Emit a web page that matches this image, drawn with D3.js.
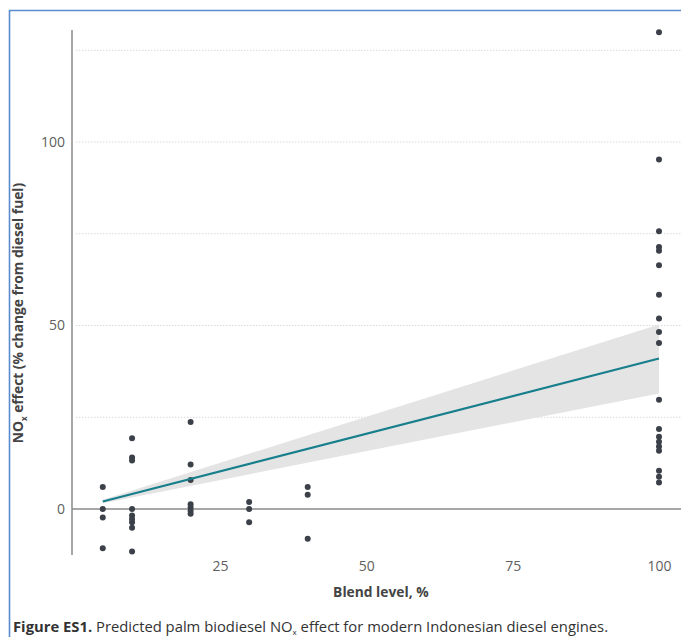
<!DOCTYPE html>
<html>
<head>
<meta charset="utf-8">
<script src="https://cdn.jsdelivr.net/npm/d3@7"></script>
<style>
body { margin: 0; background: #fff; }
text { font-family: "Open Sans", Lato, sans-serif; }
</style>
</head>
<body>
<div id="chart"></div>
<script>
var w = 681
var h = 637

// observed NOx effects, one entry per test
var obsBlend = [5, 5, 5, 5,
	10, 10, 10, 10, 10, 10, 10, 10, 10,
	20, 20, 20, 20, 20, 20, 20,
	30, 30, 30,
	40, 40, 40,
	100, 100, 100, 100, 100, 100, 100, 100, 100, 100, 100, 100, 100, 100, 100, 100, 100, 100, 100]
var obsNox = [6.0, 0, -2.3, -10.7,
	19.3, 14.0, 13.2, 0, -1.8, -2.7, -3.6, -5.1, -11.6,
	23.7, 12.1, 7.9, 1.3, 0.4, -0.5, -1.3,
	1.9, 0, -3.6,
	6.0, 3.9, -8.1,
	129.9, 95.2, 75.7, 71.4, 70.4, 66.4, 58.4, 51.9, 48.2, 45.2, 29.8, 21.8, 19.7, 18.3, 17.0, 15.9, 10.4, 8.8, 7.2]

// fitted line and confidence band
var fitBlend = [5, 100]
var fitNox = [2.05, 41.0]
var fitLow = [1.6, 31.5]
var fitHigh = [2.5, 50.3]

var xTicks = [25, 50, 75, 100]
var yTicks = [0, 50, 100]
var yGrid = [25, 50, 75, 100, 125]

var svg = d3.select("#chart")
	.append("svg")
	.attr("width", w)
	.attr("height", h)

var x = d3.scaleLinear().domain([0, 100]).range([73.5, 659])
var y = d3.scaleLinear().domain([0, 100]).range([509, 142])

// frame
svg.append("path")
	.attr("d", "M9.5," + h + "V10.5H" + w)
	.attr("fill", "none")
	.attr("stroke", "#5a8bcf")
	.attr("stroke-width", 1.6)

// grid
svg.append("g")
	.selectAll("line")
	.data(yGrid)
	.enter()
	.append("line")
	.attr("x1", 76)
	.attr("x2", w)
	.attr("y1", function(d) {return y(d)})
	.attr("y2", function(d) {return y(d)})
	.style("stroke", "#d9d9d9")
	.style("stroke-width", 1)
	.style("stroke-dasharray", "1.5,1.5")

// zero line
svg.append("line")
	.attr("x1", 72)
	.attr("x2", w)
	.attr("y1", y(0))
	.attr("y2", y(0))
	.style("stroke", "#8a8a8a")
	.style("stroke-width", 1.5)

// y axis
var yAxis = d3.axisLeft(y).tickValues(yTicks).tickSize(0).tickPadding(7)
var yG = svg.append("g")
	.attr("transform", "translate(72,0)")
	.call(yAxis)
yG.select(".domain").remove()
yG.append("line")
	.attr("y1", y(130.5))
	.attr("y2", y(-12.5))
	.style("stroke", "#8a8a8a")
	.style("stroke-width", 1.5)
yG.selectAll(".tick text")
	.attr("fill", "#606060")
	.style("font-size", "14px")
	.style("font-family", "'Open Sans', sans-serif")

// x axis (labels only)
var xAxis = d3.axisBottom(x).tickValues(xTicks).tickSize(0).tickPadding(0)
var xG = svg.append("g")
	.attr("transform", "translate(0,561)")
	.call(xAxis)
xG.select(".domain").remove()
xG.selectAll(".tick text")
	.attr("fill", "#606060")
	.style("font-size", "14px")
	.style("font-family", "'Open Sans', sans-serif")

// band
var fit = fitBlend.map(function(d, i) {return {b: d, v: fitNox[i], lo: fitLow[i], hi: fitHigh[i]}})

svg.append("path")
	.datum(fit)
	.attr("d", d3.area()
		.x(function(d) {return x(d.b)})
		.y0(function(d) {return y(d.lo)})
		.y1(function(d) {return y(d.hi)}))
	.style("fill", "#e4e4e4")

// dots
svg.append("g")
	.selectAll("circle")
	.data(obsNox)
	.enter()
	.append("circle")
	.attr("cx", function(d, i) {return x(obsBlend[i])})
	.attr("cy", function(d) {return y(d)})
	.attr("r", 3)
	.style("fill", "#3b4049")

// fitted line
svg.append("path")
	.datum(fit)
	.attr("d", d3.line()
		.x(function(d) {return x(d.b)})
		.y(function(d) {return y(d.v)}))
	.style("fill", "none")
	.style("stroke", "#177f8c")
	.style("stroke-width", 2.2)

// axis titles
svg.append("text")
	.attr("x", x(52.5))
	.attr("y", 597)
	.attr("text-anchor", "middle")
	.style("font-size", "13.8px")
	.style("font-weight", "bold")
	.attr("fill", "#444")
	.text("Blend level, %")

var yt = svg.append("text")
	.attr("transform", "translate(23,313) rotate(-90)")
	.attr("text-anchor", "middle")
	.style("font-size", "13.8px")
	.style("font-weight", "bold")
	.attr("fill", "#444")
yt.append("tspan").text("NO")
yt.append("tspan").text("x").style("font-size", "8px").attr("dy", 4)
yt.append("tspan").text(" effect (% change from diesel fuel)").attr("dy", -4)

// caption
var cap = svg.append("text")
	.attr("x", 13)
	.attr("y", 632)
	.style("font-size", "14.8px")
	.attr("fill", "#333")
cap.append("tspan").text("Figure ES1.").style("font-weight", "bold")
cap.append("tspan").text(" Predicted palm biodiesel NO")
cap.append("tspan").text("x").style("font-size", "8px").attr("dy", 3)
cap.append("tspan").text(" effect for modern Indonesian diesel engines.").attr("dy", -3)
</script>
</body>
</html>
